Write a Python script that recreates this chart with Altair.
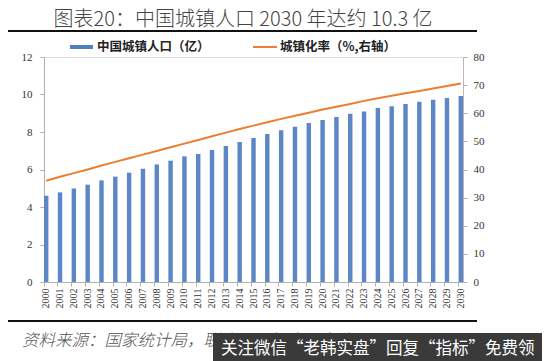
import altair as alt
import pandas as pd

years = [str(y) for y in range(2000, 2031)]
urban_pop = [4.60, 4.78, 4.99, 5.19, 5.42, 5.62, 5.83, 6.04, 6.27, 6.47,
             6.70, 6.83, 7.04, 7.25, 7.47, 7.68, 7.89, 8.09, 8.28, 8.48,
             8.64, 8.80, 8.98, 9.10, 9.28, 9.37, 9.49, 9.62, 9.72, 9.81, 9.92]
urban_rate = [36.0, 37.4, 38.7, 40.0, 41.4, 42.7, 44.0, 45.3, 46.6, 47.9,
              49.2, 50.5, 51.8, 53.1, 54.4, 55.6, 56.8, 58.0, 59.1, 60.2,
              61.3, 62.3, 63.3, 64.4, 65.3, 66.2, 67.1, 67.9, 68.8, 69.7, 70.6]

title_text = "图表20：中国城镇人口 2030 年达约 10.3 亿"
legend_bar = "中国城镇人口（亿）"
legend_line = "城镇化率（%,右轴）"
source_text = "资料来源：国家统计局，联合国，恒大研究院"
watermark_text = "关注微信“老韩实盘”回复“指标”免费领"

df = pd.DataFrame({"year": years, "pop": urban_pop, "rate": urban_rate})

W, H = 419, 225
CJK = "Noto Sans CJK SC"
SERIF = "Liberation Serif"

xenc = alt.X("year:O", title=None,
             scale=alt.Scale(paddingInner=0.68, paddingOuter=0.0),
             axis=alt.Axis(labelAngle=270, labelFont=SERIF, labelFontSize=10,
                           labelColor="#333", domainColor="#b0b0b0",
                           tickColor="#b0b0b0", tickSize=4, labelPadding=2,
                           bandPosition=0))

bars = alt.Chart(df).mark_bar(color="#5b87c6").encode(
    x=xenc,
    y=alt.Y("pop:Q", title=None,
            scale=alt.Scale(domain=[0, 12], nice=False),
            axis=alt.Axis(values=[0, 2, 4, 6, 8, 10, 12], labelFont=SERIF,
                          labelFontSize=11, labelColor="#333", grid=False,
                          domainColor="#b0b0b0", tickColor="#b0b0b0",
                          tickSize=4, labelPadding=8)),
)

line = alt.Chart(df).mark_line(color="#ed7d31", strokeWidth=2).encode(
    x=alt.X("year:O", bandPosition=0.5),
    y=alt.Y("rate:Q", title=None,
            scale=alt.Scale(domain=[0, 80], nice=False),
            axis=alt.Axis(orient="right", values=list(range(0, 81, 10)),
                          labelFont=SERIF, labelFontSize=11, labelColor="#333",
                          grid=False, domainColor="#c8b0b0", tickColor="#b0b0b0",
                          tickSize=4, labelPadding=6)),
)

one = pd.DataFrame({"a": [0]})

def txt(text, x, y, size, **kw):
    return alt.Chart(one).mark_text(text=text, fontSize=size, **kw).encode(
        x=alt.value(x), y=alt.value(y))

def box(x, x2, y, y2, color):
    return alt.Chart(one).mark_rect(color=color).encode(
        x=alt.value(x), x2=alt.value(x2), y=alt.value(y), y2=alt.value(y2))

title = txt(title_text, 199, -31, 20, font=CJK, fontWeight=300, color="#444",
            align="center", baseline="alphabetic")
top_rule = box(-36, 433, -27, -25, "#111")
bottom_rule = box(-36, 433, 263, 265, "#111")
leg_rect = box(26, 49, -12, -8, "#4f7fc0")
leg_line = box(209, 233, -11, -9, "#ed7d31")
leg_t1 = txt(legend_bar, 53, -10, 12.5, font=CJK, fontWeight="bold",
             color="#222", align="left", baseline="middle")
leg_t2 = txt(legend_line, 236, -10, 12.5, font=CJK, fontWeight="bold",
             color="#222", align="left", baseline="middle")
source = txt(source_text, -22, 289, 16.5, font=CJK, fontStyle="italic",
             fontWeight=300, color="#555", align="left", baseline="alphabetic")
wm_box = box(169, 500, 276, 304, "#3a3a3a")
wm_text = txt(watermark_text, 177, 297, 16.5, font=CJK, color="#ffffff",
              align="left", baseline="alphabetic")

chart = alt.layer(
    bars, line, title, top_rule, bottom_rule, leg_rect, leg_line, leg_t1,
    leg_t2, source, wm_box, wm_text
).resolve_scale(y="independent").properties(
    width=W, height=H,
    padding={"left": 36, "top": 49, "right": 79, "bottom": 79},
    autosize=alt.AutoSizeParams(type="none"),
).configure_view(stroke=None).configure(background="white")

chart.save("out.html", embed_options={"renderer": "svg", "actions": False})
